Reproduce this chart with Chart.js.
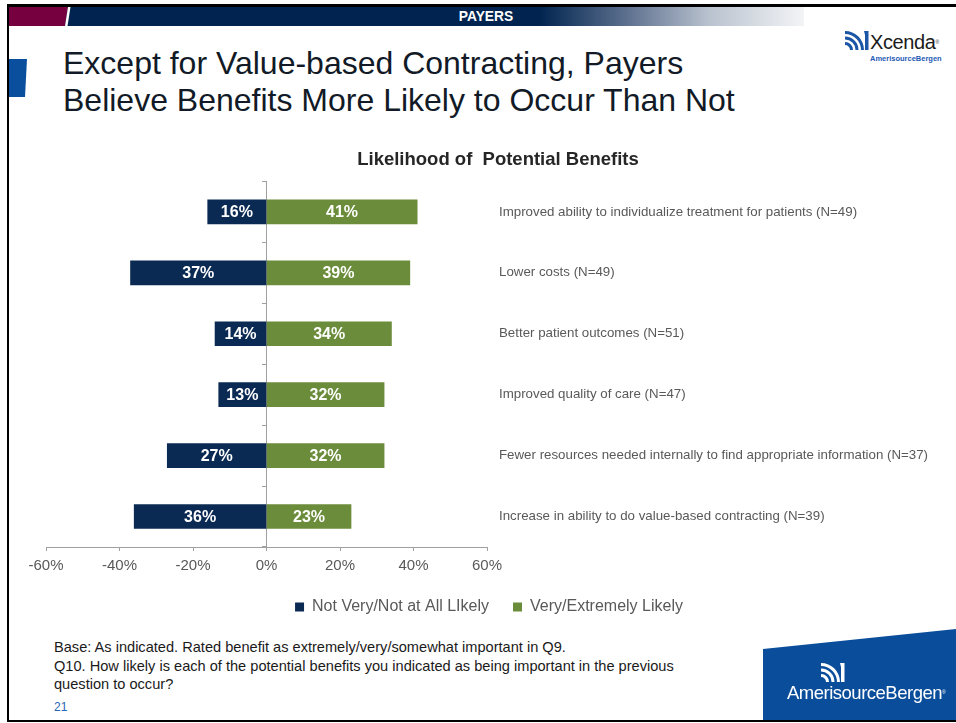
<!DOCTYPE html>
<html>
<head>
<meta charset="utf-8">
<script src="https://cdn.jsdelivr.net/npm/chart.js@4/dist/chart.umd.min.js"></script>
<style>
  html, body { margin: 0; padding: 0; background: #fff; }
  body { width: 956px; height: 723px; position: relative; overflow: hidden;
         font-family: "Liberation Sans", Arial, Helvetica, sans-serif; }
  .abs { position: absolute; }
  .line { background: #000; }
  #title { left: 63px; top: 45px; font-size: 32px; line-height: 37px; color: #111a26; white-space: nowrap; }
  #notes { left: 54px; top: 638px; font-size: 14.6px; line-height: 18.7px; color: #1a1a1a; white-space: nowrap; }
  #page { left: 54px; top: 700px; font-size: 12px; color: #2a67b8; }
</style>
</head>
<body>

<!-- slide frame -->
<div class="abs line" style="left:7px;top:4px;width:949px;height:3px"></div>
<div class="abs line" style="left:7px;top:4px;width:2px;height:718px"></div>

<!-- header band -->
<div class="abs" style="left:9px;top:7px;width:795px;height:19px;
     background:linear-gradient(to right,#00244f 0px,#00244f 530px,#5f7290 620px,#b9c2cf 700px,#f3f4f6 795px)"></div>
<div class="abs" style="left:9px;top:7px;width:60px;height:19px;background:#76003f;
     clip-path:polygon(0 0,59px 0,56px 19px,0 19px)"></div>
<div class="abs" style="left:9px;top:7px;width:70px;height:19px;background:#fff;
     clip-path:polygon(59px 0,61.5px 0,58.5px 19px,56px 19px)"></div>
<div class="abs" style="left:386px;top:7px;width:200px;height:19px;line-height:19px;text-align:center;
     color:#fff;font-weight:bold;font-size:13.8px">PAYERS</div>

<!-- side tab -->
<div class="abs" style="left:9px;top:59px;width:18px;height:38px;background:#0a4f9e;
     clip-path:polygon(0 0,18px 0,16px 38px,0 38px)"></div>

<!-- top-right brand -->
<svg class="abs" style="left:843px;top:30px" width="26" height="20" viewBox="0 0 26 20">
  <g fill="#1a55a6">
    <path d="M10 20 A8 8 0 0 0 2 12 L2 15 A5 5 0 0 1 7 20 Z"/>
    <path d="M15.5 20 A13.5 13.5 0 0 0 2 6.5 L2 9.5 A10.5 10.5 0 0 1 12.5 20 Z"/>
    <path d="M21 20 A19 19 0 0 0 2 1 L2 4 A16 16 0 0 1 18 20 Z"/>
    <path d="M21 1 L25.5 1 L25.5 20 L22 20 L22 5 Z"/>
  </g>
</svg>
<div class="abs" style="left:870px;top:32px;font-size:20px;line-height:21px;color:#1b1b1b;letter-spacing:-0.4px">Xcenda<span style="font-size:5px;vertical-align:top">®</span></div>
<div class="abs" style="left:870px;top:55px;font-size:7.5px;line-height:8px;font-weight:bold;color:#1f5bb5;white-space:nowrap">AmerisourceBergen</div>

<!-- slide title -->
<div id="title" class="abs">Except for Value-based Contracting, Payers<br>Believe Benefits More Likely to Occur Than Not</div>

<!-- chart -->
<div class="abs" style="left:0;top:140px;width:956px;height:490px">
  <canvas id="chart" width="956" height="490"></canvas>
</div>

<!-- footnote -->
<div id="notes" class="abs">Base: As indicated. Rated benefit as extremely/very/somewhat important in Q9.<br>Q10. How likely is each of the potential benefits you indicated as being important in the previous<br>question to occur?</div>
<div id="page" class="abs">21</div>

<!-- bottom-right brand block -->
<div class="abs" style="left:763px;top:629px;width:193px;height:91px;background:#0a4d9a;
     clip-path:polygon(0 20px,193px 0,193px 91px,0 91px)"></div>
<svg class="abs" style="left:819px;top:662px" width="26" height="20" viewBox="0 0 26 20">
  <g fill="#ffffff">
    <path d="M10 20 A8 8 0 0 0 2 12 L2 15 A5 5 0 0 1 7 20 Z"/>
    <path d="M15.5 20 A13.5 13.5 0 0 0 2 6.5 L2 9.5 A10.5 10.5 0 0 1 12.5 20 Z"/>
    <path d="M21 20 A19 19 0 0 0 2 1 L2 4 A16 16 0 0 1 18 20 Z"/>
    <path d="M21 1 L25.5 1 L25.5 20 L22 20 L22 5 Z"/>
  </g>
</svg>
<div class="abs" style="left:787px;top:683px;font-size:18.5px;line-height:19px;color:#fff;letter-spacing:-0.5px;white-space:nowrap">AmerisourceBergen<span style="font-size:5px;vertical-align:top">®</span></div>

<div class="abs line" style="left:7px;top:720px;width:949px;height:2px"></div>

<script>
// Survey results: share of payers rating each benefit's likelihood
const categories = [
  "Improved ability to individualize treatment for patients (N=49)",
  "Lower costs (N=49)",
  "Better patient outcomes (N=51)",
  "Improved quality of care (N=47)",
  "Fewer resources needed internally to find appropriate information (N=37)",
  "Increase in ability to do value-based contracting (N=39)"
];
const notLikely  = [16, 37, 14, 13, 27, 36];   // Not Very/Not at All Likely (%)
const veryLikely = [41, 39, 34, 32, 32, 23];   // Very/Extremely Likely (%)
const xTickValues = [-60, -40, -20, 0, 20, 40, 60];
const seriesNames = ["Not Very/Not at All LIkely", "Very/Extremely Likely"];
const chartTitle = "Likelihood of  Potential Benefits";

const FONT = '"Liberation Sans", Arial, Helvetica, sans-serif';
const NAVY = '#0b2a53';
const GREEN = '#6b8c3a';
const AXIS = '#a0a0a0';
const TEXT_GRAY = '#595959';

// white percentage labels centred inside each bar
const barValueLabels = {
  id: 'barValueLabels',
  afterDatasetsDraw(chart) {
    const ctx = chart.ctx;
    ctx.save();
    ctx.font = 'bold 16px ' + FONT;
    ctx.fillStyle = '#ffffff';
    ctx.textAlign = 'center';
    ctx.textBaseline = 'middle';
    const sources = [notLikely, veryLikely];
    chart.data.datasets.forEach((ds, di) => {
      const meta = chart.getDatasetMeta(di);
      meta.data.forEach((bar, i) => {
        const p = bar.getProps(['x', 'y', 'base'], true);
        ctx.fillText(sources[di][i] + '%', (p.x + p.base) / 2, p.y + 1);
      });
    });
    ctx.restore();
  }
};

// small horizontal nudge for the centred title and legend blocks
const centreNudge = {
  id: 'centreNudge',
  afterLayout(chart) {
    const t = chart.titleBlock, l = chart.legend;
    if (t) { t.left -= 3; t.right -= 3; }
    if (l) { l.left -= 12; l.right -= 12; }
  }
};

new Chart(document.getElementById('chart'), {
  type: 'bar',
  data: {
    labels: categories,
    datasets: [
      { label: seriesNames[0], data: notLikely.map(v => -v), backgroundColor: NAVY,
        barThickness: 24, yAxisID: 'y', xAxisID: 'x' },
      { label: seriesNames[1], data: veryLikely, backgroundColor: GREEN,
        barThickness: 24, yAxisID: 'y', xAxisID: 'x' }
    ]
  },
  options: {
    indexAxis: 'y',
    responsive: false,
    animation: false,
    devicePixelRatio: 1,
    layout: { padding: { left: 46, right: 0, top: 0, bottom: 5 } },
    scales: {
      x: {
        type: 'linear',
        position: 'bottom',
        stacked: true,
        min: -60, max: 60,
        afterBuildTicks: s => { s.ticks = xTickValues.map(v => ({ value: v })); },
        afterFit: s => { s.height = 28; },
        grid: { drawOnChartArea: false, tickLength: 4, color: AXIS },
        border: { color: AXIS },
        ticks: { color: TEXT_GRAY, font: { family: FONT, size: 15 }, padding: 6,
                 maxRotation: 0, autoSkip: false, callback: v => v + '%' }
      },
      // centre line at 0 with category divider ticks
      y: {
        type: 'category',
        position: { x: 0 },
        stacked: true,
        offset: true,
        grid: { offset: true, drawOnChartArea: false, tickLength: 4, color: AXIS },
        border: { color: AXIS },
        ticks: { display: false }
      },
      // benefit names to the right of the plot
      names: {
        type: 'category',
        axis: 'y',
        labels: categories,
        position: 'right',
        offset: true,
        afterFit: s => { s.width = 469; },
        grid: { display: false, drawTicks: false },
        border: { display: false },
        ticks: { color: TEXT_GRAY, font: { family: FONT, size: 13.3 }, padding: 12,
                 crossAlign: 'near', autoSkip: false }
      }
    },
    plugins: {
      title: {
        display: true, text: chartTitle, color: '#262626',
        font: { family: FONT, size: 18.5, weight: 'bold' },
        padding: { top: 9, bottom: 10.2 }
      },
      legend: {
        position: 'bottom',
        labels: { color: TEXT_GRAY, font: { family: FONT, size: 16 },
                  boxWidth: 9, boxHeight: 9, padding: 24 }
      },
      tooltip: { enabled: false }
    }
  },
  plugins: [barValueLabels, centreNudge]
});
</script>
</body>
</html>
